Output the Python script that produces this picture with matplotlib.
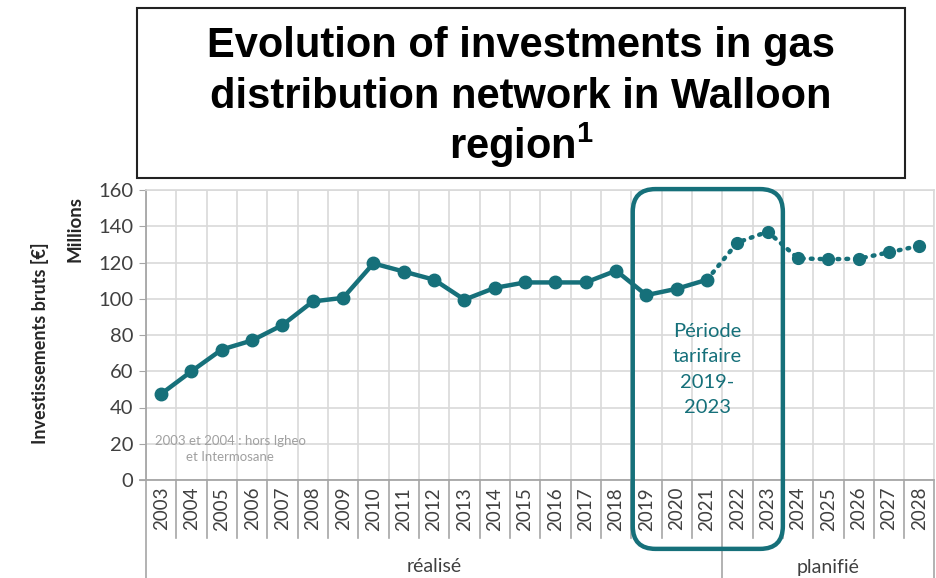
import matplotlib.pyplot as plt
import matplotlib.transforms as mtransforms
from matplotlib.patches import FancyBboxPatch, Rectangle
import numpy as np

# Gross investments, millions of euros
years = list(range(2003, 2029))
invest = [47.5, 60, 72, 77, 85.5, 98.5, 100.5, 119.5, 115, 110.5, 99.5, 106,
          109, 109, 109, 115.5, 102, 105.5, 110.5, 131, 137, 122.3, 121.8,
          122.1, 125.6, 129.2]
n_actual = 19  # 2003-2021 realised, 2022-2028 planned
groups = ['réalisé', 'planifié']
title_lines = ['Evolution of investments in gas',
               'distribution network in Walloon',
               'region$^{1}$']

teal = '#16707a'
grid_c = '#d9d9d9'
axis_c = '#a6a6a6'
body_font = 'Lato'

plt.rcParams['mathtext.fontset'] = 'custom'
plt.rcParams['mathtext.rm'] = 'Liberation Sans:bold'

fig = plt.figure(figsize=(9.37, 5.78), dpi=100)
ax = fig.add_axes([146 / 937, 1 - 480 / 578, (934.5 - 146) / 937, 290 / 578])

x = np.arange(len(years))
ax.plot(x[:n_actual], invest[:n_actual], color=teal, lw=3.2, marker='o', ms=9,
        solid_capstyle='round', zorder=5)
ax.plot(x[n_actual - 1:], invest[n_actual - 1:], color=teal, lw=3.2,
        linestyle=(0, (0.4, 1.6)), dash_capstyle='round', zorder=4)
ax.plot(x[n_actual:], invest[n_actual:], color=teal, lw=0, marker='o', ms=8.5,
        zorder=5)

ax.set_xlim(-0.5, len(years) - 0.5)
ax.set_ylim(0, 160)
ax.set_yticks(np.arange(0, 161, 20))
ax.set_xticks(x)
ax.set_xticklabels([str(y) for y in years], rotation=90, fontsize=13.5,
                   family=body_font, color='#404040')
ax.set_xticks(np.arange(-0.5, len(years)), minor=True)
ax.tick_params(axis='x', which='both', length=0, pad=5)
ax.tick_params(axis='y', length=5, color=axis_c, labelsize=14.5,
               labelcolor='#404040', pad=4)
for lab in ax.get_yticklabels():
    lab.set_family(body_font)

ax.grid(axis='y', color=grid_c, lw=1.2)
ax.grid(axis='x', which='minor', color=grid_c, lw=1.2)
for s in ['top', 'right']:
    ax.spines[s].set_color(grid_c)
    ax.spines[s].set_linewidth(1.2)
for s in ['left', 'bottom']:
    ax.spines[s].set_color(axis_c)
    ax.spines[s].set_linewidth(1.3)

# category separators below the axis
trans = mtransforms.blended_transform_factory(ax.transData, ax.transAxes)
px = 1 / 290  # one pixel in axes height units
for b in np.arange(-0.5, len(years)):
    if b in (-0.5, n_actual - 0.5, len(years) - 0.5):
        bottom = -98 * px
    else:
        bottom = -58 * px
    ax.plot([b, b], [0, bottom], color=axis_c, lw=1.2, transform=trans,
            clip_on=False)
ax.plot([-0.7, -0.5], [0, 0], color=axis_c, lw=1.3, transform=trans,
        clip_on=False)

ax.text((n_actual - 1) / 2, -87 * px, groups[0], transform=trans, ha='center',
        va='center', fontsize=14, family=body_font, color='#404040')
ax.text((n_actual + len(years) - 1) / 2, -87 * px, groups[1], transform=trans,
        ha='center', va='center', fontsize=14, family=body_font, color='#404040')

# tariff period frame
aspect = (788.5 / 26) / (290 / 160)
frame = FancyBboxPatch((15.55, -38), 4.95, 198.5,
                       boxstyle='round,pad=0,rounding_size=0.75',
                       mutation_aspect=aspect, fill=False, ec=teal, lw=3.2,
                       clip_on=False, zorder=6)
ax.add_patch(frame)
ax.text(18, 61, 'Période\ntarifaire\n2019-\n2023', ha='center', va='center',
        fontsize=14.5, family=body_font, color=teal, linespacing=1.6)

ax.text(2.27, 17, '2003 et 2004 : hors Igheo\net Intermosane', ha='center',
        va='center', fontsize=9.5, family=body_font, color='#a0a0a0',
        linespacing=1.4)

# axis titles
fig.text(40 / 937, 1 - 343 / 578, 'Investissements bruts [€]', rotation=90,
         ha='center', va='center', fontsize=13, fontweight='bold',
         family=body_font, color='#262626')
fig.text(75 / 937, 1 - 229 / 578, 'Millions', rotation=90, ha='center',
         va='center', fontsize=13.5, fontweight='bold', family=body_font,
         color='#262626')

# title box, one line at a time so the baselines stay evenly spaced
fig.patches.append(Rectangle((137 / 937, 1 - 178 / 578), 768 / 937, 170 / 578,
                             transform=fig.transFigure, fill=False, ec='#222222',
                             lw=1.5))
for i, line in enumerate(title_lines):
    fig.text(521 / 937, 1 - (57 + 51 * i) / 578, line, ha='center',
             va='baseline', fontsize=30, fontweight='bold',
             family='Liberation Sans')

plt.savefig('out.png', dpi=100)
plt.close()
